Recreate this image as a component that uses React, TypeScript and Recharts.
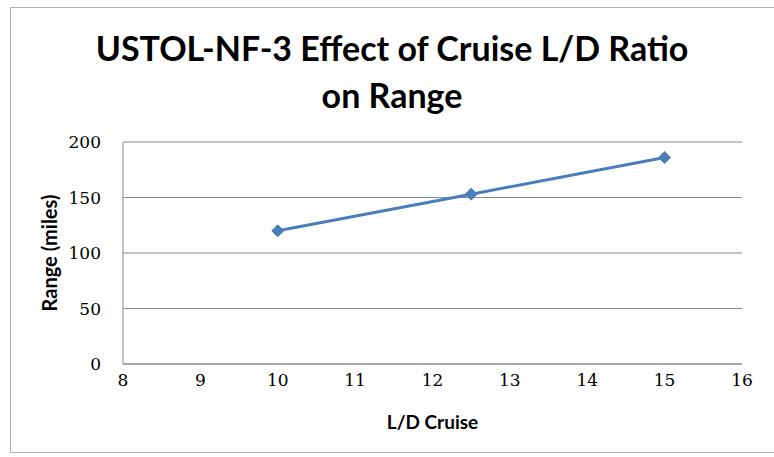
import React from "react";
import { LineChart, Line, XAxis, YAxis, CartesianGrid, Label } from "recharts";

const ldCruise = [10, 12.5, 15];
const rangeMiles = [120, 153, 186];
const xTicks = [8, 9, 10, 11, 12, 13, 14, 15, 16];
const yTicks = [0, 50, 100, 150, 200];

const data = ldCruise.map((x, i) => ({ x, y: rangeMiles[i] }));

const Diamond = (props: any) => {
  const { cx, cy } = props;
  if (cx == null || cy == null) return null;
  const r = 6;
  return (
    <path
      d={`M${cx},${cy - r} L${cx + r},${cy} L${cx},${cy + r} L${cx - r},${cy} Z`}
      fill="#4a7ebb"
      stroke="#4a7ebb"
    />
  );
};

const tickStyle = { fill: "#000", fontFamily: "'DejaVu Serif', serif", fontSize: 17 };

export default function App() {
  return (
    <div style={{ position: "absolute", left: 0, top: 0, width: 774, height: 457, background: "#fff" }}>
      <div
        style={{
          position: "absolute",
          left: 10,
          top: 7,
          width: 775,
          height: 446,
          border: "1px solid #b0b0b0",
          boxSizing: "border-box",
        }}
      />
      <div
        style={{
          position: "absolute",
          left: 0,
          top: 24,
          width: 784,
          textAlign: "center",
          fontFamily: "Lato, 'Open Sans', sans-serif",
          fontWeight: 700,
          fontSize: 34,
          lineHeight: "47px",
          color: "#000",
        }}
      >
        USTOL-NF-3 Effect of Cruise L/D Ratio
        <br />
        on Range
      </div>
      <LineChart
        width={774}
        height={457}
        data={data}
        margin={{ top: 142, right: 32, bottom: 13, left: 0 }}
        style={{ position: "absolute", left: 0, top: 0 }}
      >
        <CartesianGrid vertical={false} stroke="#8a8a8a" strokeWidth={1} />
        <XAxis
          dataKey="x"
          type="number"
          domain={[8, 16]}
          ticks={xTicks}
          interval={0}
          height={80}
          tickLine={false}
          tickSize={0}
          tickMargin={10}
          axisLine={{ stroke: "#8a8a8a" }}
          tick={tickStyle}
        >
          <Label
            value="L/D Cruise"
            position="insideBottom"
            offset={15}
            style={{ fill: "#000", fontFamily: "Lato, sans-serif", fontWeight: 700, fontSize: 19 }}
          />
        </XAxis>
        <YAxis
          type="number"
          domain={[0, 200]}
          ticks={yTicks}
          interval={0}
          width={123}
          tickLine={false}
          tickSize={0}
          tickMargin={22}
          axisLine={{ stroke: "#8a8a8a" }}
          tick={tickStyle}
        >
          <Label
            value="Range (miles)"
            angle={-90}
            position="insideLeft"
            offset={50}
            style={{ textAnchor: "middle", fill: "#000", fontFamily: "Lato, sans-serif", fontWeight: 700, fontSize: 20 }}
          />
        </YAxis>
        <Line
          dataKey="y"
          stroke="#4a7ebb"
          strokeWidth={3}
          dot={<Diamond />}
          activeDot={false}
          isAnimationActive={false}
        />
      </LineChart>
    </div>
  );
}
